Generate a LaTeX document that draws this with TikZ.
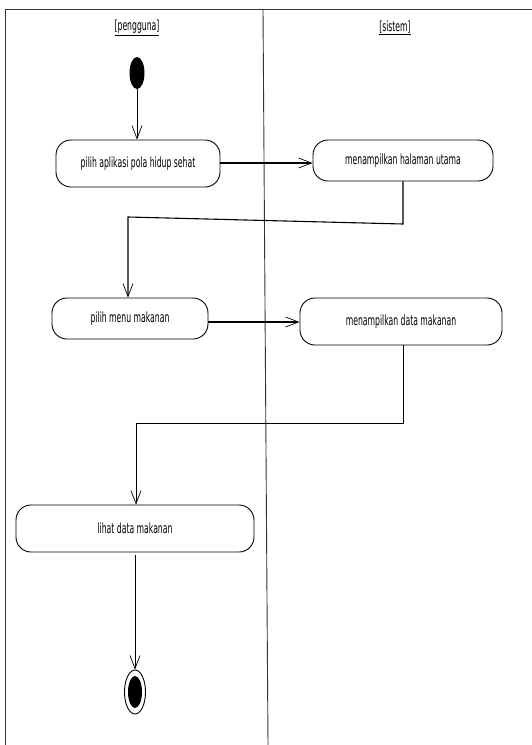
\documentclass[tikz,border=0pt]{standalone}
\usepackage{fontspec}
\usepackage{graphicx}
\setmainfont{DejaVu Sans}
\usetikzlibrary{arrows.meta,shapes.geometric}
\newcommand{\nar}[1]{\scalebox{0.55}[1]{#1}}
\tikzset{
  lane/.style={draw=black!80, line width=0.9pt},
  action/.style={draw, line width=0.9pt, rounded corners=15pt, inner sep=0pt,
    font=\fontsize{14}{16}\selectfont},
  flow/.style={draw, line width=0.7pt, -{Straight Barb[length=13pt,width=10pt,line width=0.7pt]}},
  flowthick/.style={flow, line width=1.1pt},
  lanehead/.style={font=\fontsize{14}{16}\selectfont, inner sep=1pt},
}
\begin{document}
\begin{tikzpicture}[x=1pt,y=-1pt]
  \useasboundingbox (0,0) rectangle (532,745);
  % swimlane frame
  \draw[lane] (5,745) -- (5,9) -- (532,9);
  \draw[lane] (263,9) -- (268,745);
  \node[lanehead] (lp) at (137,28) {\nar{\underline{[pengguna]}}};
  \node[lanehead] (ls) at (395,28) {\nar{\underline{[sistem]}}};

  % start and end states
  \node[ellipse, fill=black, minimum width=15pt, minimum height=32pt, inner sep=0pt] (start) at (137,73) {};
  \node[ellipse, draw, line width=0.9pt, fill=white, minimum width=21pt, minimum height=44pt, inner sep=0pt] (end) at (135,692) {};
  \node[ellipse, fill=black, minimum width=14pt, minimum height=32pt, inner sep=0pt] (endin) at (135,692) {};

  % activities
  \node[action, minimum width=164pt, minimum height=47pt] (a1) at (138,163.5) {\nar{pilih aplikasi pola hidup sehat}};
  \node[action, minimum width=180pt, minimum height=41pt] (a2) at (403,160.5) {\nar{menampilkan halaman utama}};
  \node[action, minimum width=156pt, minimum height=41pt] (a3) at (130,318.5) {\nar{pilih menu makanan}};
  \node[action, minimum width=202pt, minimum height=47pt] (a4) at (401,321.5) {\nar{menampilkan data makanan}};
  \node[action, minimum width=238pt, minimum height=47pt] (a5) at (135,528.5) {\nar{lihat data makanan}};

  % bend points
  \coordinate (b1) at (403,224);
  \coordinate (b2) at (128,217);
  \coordinate (c1) at (403,423);
  \coordinate (c2) at (136,423);

  % transitions
  \draw[flow] (start.south) -- (a1.north -| start.south);
  \draw[flowthick] (a1.east |- 0,163) -- (a2.west |- 0,163);
  \draw[flowthick] (a2.south -| b1) -- (b1) -- (b2) -- (b2 |- a3.north);
  \draw[flowthick] (a3.east |- 0,322) -- (a4.west |- 0,322);
  \draw[flow] (a4.south -| c1) -- (c1) -- (c2) -- (c2 |- a5.north);
  \draw[flow] (a5.south) ++(0,3) -- (end.north);
\end{tikzpicture}
\end{document}
